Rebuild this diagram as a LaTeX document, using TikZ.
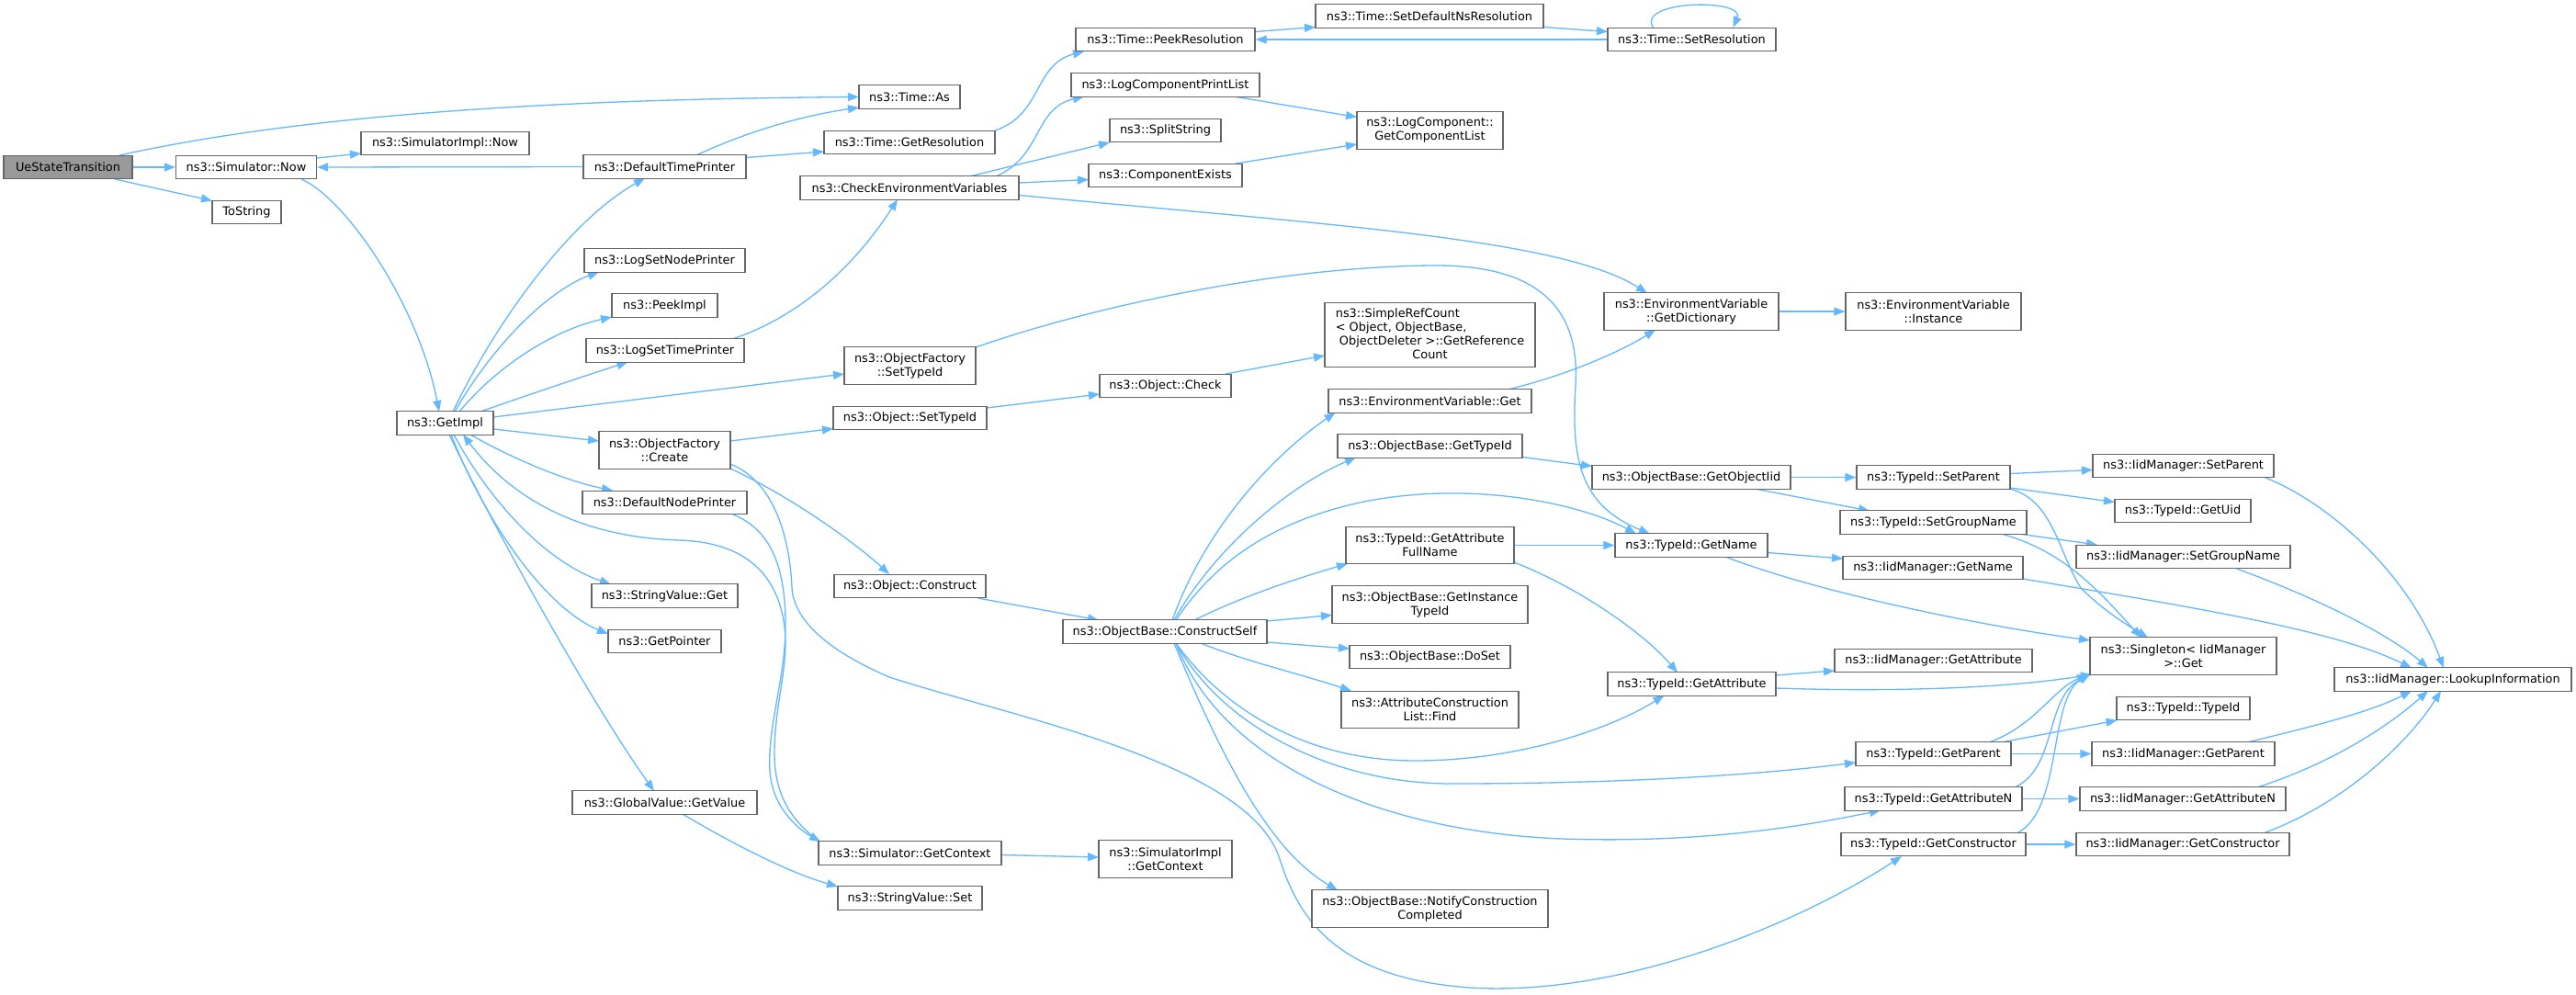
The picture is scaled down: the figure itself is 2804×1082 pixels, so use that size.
\documentclass[tikz,border=0pt]{standalone}
\usepackage{fontspec}
\setmainfont{DejaVu Sans}
\usetikzlibrary{arrows.meta}
\definecolor{edgec}{HTML}{63B8FF}
\definecolor{boxc}{HTML}{666666}
\definecolor{rootc}{HTML}{999999}
\pgfdeclarelayer{back}
\pgfdeclarelayer{edges}
\pgfsetlayers{back,edges,main}
\tikzset{
  fn/.style={draw=boxc, line width=1.3pt, fill=white, inner sep=0pt, minimum height=25.5pt,
    font=\fontsize{12.9pt}{15pt}\selectfont, align=center},
  fn2/.style={fn, minimum height=40.5pt},
  call/.style={draw=edgec, line width=1.3pt, -{Triangle[length=12pt,width=9pt]}}
}
\begin{document}
\begin{tikzpicture}[x=1pt,y=-1pt]
\useasboundingbox (0,0) rectangle (2804,1082);
\begin{pgfonlayer}{back}
\fill[white] (0,0) rectangle (2804,1082);
\end{pgfonlayer}
% column 1-4
\node[fn, fill=rootc, minimum width=140pt] (ue) at (74,182) {UeStateTransition};
\node[fn, minimum width=153pt] (simnow) at (268,182) {ns3::Simulator::Now};
\node[fn, minimum width=183pt] (simimplnow) at (484.5,156) {ns3::SimulatorImpl::Now};
\node[fn, minimum width=75pt] (tostring) at (268.5,231) {ToString};
\node[fn, minimum width=105pt] (getimpl) at (484.5,460.5) {ns3::GetImpl};
\node[fn, minimum width=177pt] (dtp) at (723.5,181.5) {ns3::DefaultTimePrinter};
\node[fn, minimum width=175pt] (lsnp) at (723.5,283.5) {ns3::LogSetNodePrinter};
\node[fn, minimum width=115pt] (peekimpl) at (723.5,332.5) {ns3::PeekImpl};
\node[fn, minimum width=172pt] (lstp) at (724,381.5) {ns3::LogSetTimePrinter};
\node[fn2, minimum width=143pt] (ofcreate) at (723.5,490) {ns3::ObjectFactory\\::Create};
\node[fn, minimum width=179pt] (dnp) at (723.5,547) {ns3::DefaultNodePrinter};
\node[fn, minimum width=159pt] (svget) at (723.5,648.5) {ns3::StringValue::Get};
\node[fn, minimum width=123pt] (getptr) at (723.5,698) {ns3::GetPointer};
\node[fn, minimum width=201pt] (gvget) at (723.5,873.5) {ns3::GlobalValue::GetValue};
% column 5
\node[fn, minimum width=110pt] (timeas) at (990,105.5) {ns3::Time::As};
\node[fn, minimum width=186pt] (getres) at (990,155) {ns3::Time::GetResolution};
\node[fn, minimum width=238pt] (cev) at (990,204.5) {ns3::CheckEnvironmentVariables};
\node[fn2, minimum width=143pt] (ofsettid) at (990.5,398) {ns3::ObjectFactory\\::SetTypeId};
\node[fn, minimum width=167pt] (objsettid) at (990.5,455) {ns3::Object::SetTypeId};
\node[fn, minimum width=165pt] (objconstruct) at (990.5,638) {ns3::Object::Construct};
\node[fn, minimum width=199pt] (simgetctx) at (990.5,928.5) {ns3::Simulator::GetContext};
\node[fn, minimum width=157pt] (svset) at (990.5,977.5) {ns3::StringValue::Set};
% column 6
\node[fn, minimum width=195pt] (peekres) at (1268.5,43) {ns3::Time::PeekResolution};
\node[fn, minimum width=205pt] (lcpl) at (1268.5,92.5) {ns3::LogComponentPrintList};
\node[fn, minimum width=121pt] (split) at (1268.5,142) {ns3::SplitString};
\node[fn, minimum width=167pt] (compexists) at (1268.5,191) {ns3::ComponentExists};
\node[fn, minimum width=143pt] (objcheck) at (1268.5,420) {ns3::Object::Check};
\node[fn, minimum width=222pt] (constructself) at (1268,687.5) {ns3::ObjectBase::ConstructSelf};
\node[fn2, minimum width=145pt] (simimplctx) at (1268.5,935) {ns3::SimulatorImpl\\::GetContext};
% column 7
\node[fn, minimum width=248pt] (setdefns) at (1556,17.5) {ns3::Time::SetDefaultNsResolution};
\node[fn2, minimum width=159pt] (getcomplist) at (1556.5,142) {ns3::LogComponent::\\GetComponentList};
\node[fn, minimum width=229pt, minimum height=69.5pt] (src) at (1556.5,364.5)
  {\begin{tabular}{@{}l@{}}ns3::SimpleRefCount\\< Object, ObjectBase,\\\ ObjectDeleter >::GetReference\\\multicolumn{1}{@{}c@{}}{Count}\end{tabular}};
\node[fn, minimum width=221pt] (evget) at (1556.5,436.5) {ns3::EnvironmentVariable::Get};
\node[fn, minimum width=201pt] (obgettid) at (1556.5,485.5) {ns3::ObjectBase::GetTypeId};
\node[fn2, minimum width=183pt] (getattrfull) at (1556.5,593.5) {ns3::TypeId::GetAttribute\\FullName};
\node[fn2, minimum width=213pt] (getinst) at (1556.5,658) {ns3::ObjectBase::GetInstance\\TypeId};
\node[fn, minimum width=175pt] (doset) at (1556.5,715) {ns3::ObjectBase::DoSet};
\node[fn2, minimum width=193pt] (acfind) at (1556.5,772.5) {ns3::AttributeConstruction\\List::Find};
\node[fn2, minimum width=257pt] (notify) at (1556.5,989) {ns3::ObjectBase::NotifyConstruction\\Completed};
% column 8
\node[fn, minimum width=183pt] (setres) at (1841.5,43) {ns3::Time::SetResolution};
\node[fn2, minimum width=190pt] (getdict) at (1841,339) {ns3::EnvironmentVariable\\::GetDictionary};
\node[fn, minimum width=216pt] (getobjiid) at (1841,519.5) {ns3::ObjectBase::GetObjectIid};
\node[fn, minimum width=166pt] (tidgetname) at (1841,593.5) {ns3::TypeId::GetName};
\node[fn, minimum width=183pt] (tidgetattr) at (1841.5,744.5) {ns3::TypeId::GetAttribute};
% column 9
\node[fn2, minimum width=191pt] (evinst) at (2104.5,339) {ns3::EnvironmentVariable\\::Instance};
\node[fn, minimum width=167pt] (tidsetparent) at (2104.5,519.5) {ns3::TypeId::SetParent};
\node[fn, minimum width=203pt] (tidsetgroup) at (2104.5,568.5) {ns3::TypeId::SetGroupName};
\node[fn, minimum width=196pt] (iidgetname) at (2104,618) {ns3::IidManager::GetName};
\node[fn, minimum width=215pt] (iidgetattr) at (2104.5,719) {ns3::IidManager::GetAttribute};
\node[fn, minimum width=169pt] (tidgetparent) at (2104.5,820.5) {ns3::TypeId::GetParent};
\node[fn, minimum width=193pt] (tidgetattrn) at (2104.5,869.5) {ns3::TypeId::GetAttributeN};
\node[fn, minimum width=201pt] (tidgetctor) at (2104.5,919) {ns3::TypeId::GetConstructor};
% column 10
\node[fn, minimum width=197pt] (iidsetparent) at (2376.5,507) {ns3::IidManager::SetParent};
\node[fn, minimum width=148pt] (tidgetuid) at (2376,556) {ns3::TypeId::GetUid};
\node[fn, minimum width=233pt] (iidsetgroup) at (2376.5,606) {ns3::IidManager::SetGroupName};
\node[fn2, minimum width=203pt] (singleton) at (2376.5,714) {ns3::Singleton< IidManager\\>::Get};
\node[fn, minimum width=145pt] (tidtypeid) at (2376.5,771) {ns3::TypeId::TypeId};
\node[fn, minimum width=199pt] (iidgetparent) at (2376.5,820.5) {ns3::IidManager::GetParent};
\node[fn, minimum width=224pt] (iidgetattrn) at (2376,869.5) {ns3::IidManager::GetAttributeN};
\node[fn, minimum width=232pt] (iidgetctor) at (2376,919) {ns3::IidManager::GetConstructor};
% column 11
\node[fn, minimum width=258pt] (lookup) at (2670,739.5) {ns3::IidManager::LookupInformation};

\begin{pgfonlayer}{edges}
% UeStateTransition
\draw[call] ([shift={(56,-13)}]ue.center) .. controls (330,125) and (600,108) .. ([shift={(-55,0)}]timeas.center);
\draw[call] (ue.east) -- (simnow.west);
\draw[call] ([shift={(51,13)}]ue.center) -- ([shift={(-37.5,-12.5)}]tostring.center);
% Simulator::Now
\draw[call] ([shift={(77,-10)}]simnow.center) -- ([shift={(-91.5,11)}]simimplnow.center);
\draw[call] ([shift={(60,13)}]simnow.center) .. controls (375,215) and (455,330) .. ([shift={(-6.5,-12.5)}]getimpl.center);
% DefaultTimePrinter
\draw[call] (dtp.west) -- (simnow.east);
\draw[call] ([shift={(34.5,-12.5)}]dtp.center) .. controls (820,140) and (880,125) .. ([shift={(-55,11.5)}]timeas.center);
\draw[call] ([shift={(88.5,-10)}]dtp.center) -- ([shift={(-93,10)}]getres.center);
% GetImpl
\draw[call] ([shift={(8.5,-12.5)}]getimpl.center) .. controls (540,350) and (620,240) .. ([shift={(-21.5,12.5)}]dtp.center);
\draw[call] ([shift={(10.5,-12.5)}]getimpl.center) .. controls (540,370) and (600,315) .. ([shift={(-71.5,12.5)}]lsnp.center);
\draw[call] ([shift={(15.5,-12.5)}]getimpl.center) .. controls (540,400) and (600,360) .. ([shift={(-57.5,12.5)}]peekimpl.center);
\draw[call] ([shift={(38.5,-12.5)}]getimpl.center) .. controls (580,428) and (640,408) .. ([shift={(-40.5,12.5)}]lstp.center);
\draw[call] ([shift={(52.5,-6.5)}]getimpl.center) -- ([shift={(-71.5,9)}]ofsettid.center);
\draw[call] ([shift={(52.5,6.5)}]getimpl.center) -- ([shift={(-71.5,-10)}]ofcreate.center);
\draw[call] ([shift={(27.5,12.5)}]getimpl.center) .. controls (550,495) and (610,522) .. ([shift={(-56.5,-13)}]dnp.center);
\draw[call] ([shift={(9.5,12.5)}]getimpl.center) .. controls (530,540) and (590,610) .. ([shift={(-58.5,-12.5)}]svget.center);
\draw[call] ([shift={(6.5,12.5)}]getimpl.center) .. controls (525,560) and (590,660) .. ([shift={(-61.5,-8)}]getptr.center);
\draw[call] ([shift={(4.5,12.5)}]getimpl.center) .. controls (530,560) and (640,760) .. ([shift={(-11.5,-12.5)}]gvget.center);
% Simulator::GetContext -> GetImpl
\draw[call] ([shift={(-99,-12.5)}]simgetctx.center) .. controls (865,895) and (843,870) .. (843,820)
  .. controls (843,760) and (862,720) .. (852,670) .. controls (840,615) and (800,590) .. (740,588)
  .. controls (660,586) and (570,560) .. ([shift={(19.5,12.5)}]getimpl.center);
% DefaultNodePrinter -> Simulator::GetContext
\draw[call] ([shift={(74.5,13)}]dnp.center) .. controls (835,575) and (855,610) .. (855,680)
  .. controls (855,740) and (835,790) .. (838,840) .. controls (841,880) and (870,903) .. ([shift={(-97.5,-12.5)}]simgetctx.center);
% ObjectFactory::Create
\draw[call] ([shift={(71.5,-10)}]ofcreate.center) -- ([shift={(-83.5,11.5)}]objsettid.center);
\draw[call] ([shift={(71.5,20)}]ofcreate.center) .. controls (860,540) and (930,590) .. ([shift={(-22.5,-13)}]objconstruct.center);
\draw[call] ([shift={(71.5,15)}]ofcreate.center) .. controls (845,525) and (860,590) .. (862,640)
  .. controls (865,680) and (910,712) .. (968,737) .. controls (1100,780) and (1360,830) .. (1393,935)
  .. controls (1415,1005) and (1460,1065) .. (1600,1075) .. controls (1760,1085) and (1950,1010) .. ([shift={(-34.5,13)}]tidgetctor.center);
% ObjectFactory::SetTypeId -> TypeId::GetName
\draw[call] ([shift={(71.5,-20)}]ofsettid.center) .. controls (1200,330) and (1400,290) .. (1560,289)
  .. controls (1680,288) and (1720,340) .. (1715,420) .. controls (1710,500) and (1720,550) .. ([shift={(-45,-12.5)}]tidgetname.center);
% Object
\draw[call] ([shift={(83.5,-11)}]objsettid.center) -- ([shift={(-71.5,9)}]objcheck.center);
\draw[call] ([shift={(65.5,-13)}]objcheck.center) -- ([shift={(-114.5,22.5)}]src.center);
\draw[call] ([shift={(74,13)}]objconstruct.center) -- ([shift={(-72,-12.5)}]constructself.center);
\draw[call] ([shift={(99.5,2)}]simgetctx.center) -- ([shift={(-72.5,-2)}]simimplctx.center);
\draw[call] ([shift={(19.5,12.5)}]gvget.center) .. controls (800,920) and (860,950) .. ([shift={(-78.5,-12.5)}]svset.center);
% LogSetTimePrinter -> CEV
\draw[call] ([shift={(73,-12.5)}]lstp.center) .. controls (870,345) and (930,290) .. ([shift={(-13,12.5)}]cev.center);
% CheckEnvironmentVariables
\draw[call] ([shift={(94,-12.5)}]cev.center) .. controls (1135,170) and (1125,118) .. ([shift={(-88.5,12.5)}]lcpl.center);
\draw[call] ([shift={(65,-12.5)}]cev.center) -- ([shift={(-60.5,13)}]split.center);
\draw[call] ([shift={(119,-5.5)}]cev.center) -- ([shift={(-83.5,4.5)}]compexists.center);
\draw[call] ([shift={(119,8)}]cev.center) .. controls (1450,245) and (1700,260) .. ([shift={(-48,-20)}]getdict.center);
% Time
\draw[call] ([shift={(93,-13)}]getres.center) .. controls (1135,125) and (1125,70) .. ([shift={(-88.5,13)}]peekres.center);
\draw[call] ([shift={(97.5,-8.5)}]peekres.center) -- ([shift={(-124,12)}]setdefns.center);
\draw[call] ([shift={(124,12)}]setdefns.center) -- ([shift={(-91.5,-8.5)}]setres.center);
\draw[call] (setres.west) -- (peekres.east);
\draw[call] ([shift={(-42,-13)}]setres.center) .. controls (1780,0) and (1900,-2) .. ([shift={(45,-13)}]setres.center);
% LogComponent
\draw[call] ([shift={(74.5,12.5)}]lcpl.center) -- ([shift={(-79.5,-14.5)}]getcomplist.center);
\draw[call] ([shift={(76.5,-13)}]compexists.center) -- ([shift={(-79.5,15)}]getcomplist.center);
% EnvironmentVariable
\draw[call] (getdict.east) -- (evinst.west);
\draw[call] ([shift={(84.5,-12.5)}]evget.center) .. controls (1700,410) and (1760,385) .. ([shift={(-39,20)}]getdict.center);
% ConstructSelf
\draw[call] ([shift={(8,-12.5)}]constructself.center) .. controls (1310,580) and (1380,500) .. ([shift={(-103,12.5)}]evget.center);
\draw[call] ([shift={(10,-12.5)}]constructself.center) .. controls (1320,600) and (1400,530) .. ([shift={(-80.5,12.5)}]obgettid.center);
\draw[call] ([shift={(12,-12.5)}]constructself.center) .. controls (1330,600) and (1400,565) .. (1480,547)
  .. controls (1600,522) and (1720,548) .. ([shift={(-60,-12.5)}]tidgetname.center);
\draw[call] ([shift={(32,-12.5)}]constructself.center) .. controls (1350,650) and (1410,630) .. ([shift={(-89.5,20)}]getattrfull.center);
\draw[call] ([shift={(111,-11.5)}]constructself.center) -- ([shift={(-106.5,11.5)}]getinst.center);
\draw[call] ([shift={(111,11.5)}]constructself.center) -- ([shift={(-87.5,-9)}]doset.center);
\draw[call] ([shift={(39,12.5)}]constructself.center) .. controls (1350,718) and (1420,735) .. ([shift={(-85.5,-20.5)}]acfind.center);
\draw[call] ([shift={(12,12.5)}]constructself.center) .. controls (1330,770) and (1420,828) .. (1540,828)
  .. controls (1650,828) and (1750,795) .. ([shift={(-30,12.5)}]tidgetattr.center);
\draw[call] ([shift={(12,12.5)}]constructself.center) .. controls (1330,790) and (1450,853) .. (1580,853)
  .. controls (1750,853) and (1900,845) .. ([shift={(-84.5,9.5)}]tidgetparent.center);
\draw[call] ([shift={(12,12.5)}]constructself.center) .. controls (1330,830) and (1500,905) .. (1700,913)
  .. controls (1850,918) and (1960,900) .. ([shift={(-57.5,12.5)}]tidgetattrn.center);
\draw[call] ([shift={(10,12.5)}]constructself.center) .. controls (1340,850) and (1390,930) .. ([shift={(-100.5,-20)}]notify.center);
% TypeId::GetAttributeFullName
\draw[call] (getattrfull.east) -- (tidgetname.west);
\draw[call] ([shift={(91.5,18.5)}]getattrfull.center) .. controls (1720,640) and (1790,690) .. ([shift={(-15.5,-12.5)}]tidgetattr.center);
% ObjectBase::GetTypeId / GetObjectIid
\draw[call] ([shift={(100.5,12)}]obgettid.center) -- ([shift={(-108,-12)}]getobjiid.center);
\draw[call] (getobjiid.east) -- (tidsetparent.west);
\draw[call] ([shift={(69,12.5)}]getobjiid.center) -- ([shift={(-69.5,-12.5)}]tidsetgroup.center);
% TypeId::GetName / GetAttribute
\draw[call] ([shift={(83,8)}]tidgetname.center) -- ([shift={(-98,-10)}]iidgetname.center);
\draw[call] ([shift={(37,12.5)}]tidgetname.center) .. controls (1980,645) and (2150,680) .. ([shift={(-101.5,-17)}]singleton.center);
\draw[call] ([shift={(91.5,-9.5)}]tidgetattr.center) -- ([shift={(-107.5,11)}]iidgetattr.center);
\draw[call] ([shift={(91.5,4.5)}]tidgetattr.center) .. controls (2050,753) and (2180,750) .. ([shift={(-99.5,20)}]singleton.center);
% TypeId::SetParent / SetGroupName
\draw[call] ([shift={(83.5,-4)}]tidsetparent.center) -- ([shift={(-98.5,4.5)}]iidsetparent.center);
\draw[call] ([shift={(83.5,11.5)}]tidsetparent.center) -- ([shift={(-74,-9.5)}]tidgetuid.center);
\draw[call] ([shift={(83.5,12.5)}]tidsetparent.center) .. controls (2235,545) and (2240,600) .. (2265,640)
  .. controls (2290,665) and (2315,680) .. ([shift={(-38.5,-20)}]singleton.center);
\draw[call] ([shift={(92.5,12.5)}]tidsetgroup.center) -- ([shift={(-93.5,-13)}]iidsetgroup.center);
\draw[call] ([shift={(73.5,12.5)}]tidsetgroup.center) .. controls (2250,600) and (2290,650) .. ([shift={(-45.5,-20)}]singleton.center);
% TypeId::GetParent / GetAttributeN / GetConstructor
\draw[call] ([shift={(60.5,-12.5)}]tidgetparent.center) .. controls (2215,790) and (2235,750) .. ([shift={(-103.5,20)}]singleton.center);
\draw[call] ([shift={(73.5,-12.5)}]tidgetparent.center) -- ([shift={(-72,13)}]tidtypeid.center);
\draw[call] (tidgetparent.east) -- (iidgetparent.west);
\draw[call] ([shift={(88.5,-12.5)}]tidgetattrn.center) .. controls (2240,835) and (2225,760) .. ([shift={(-101.5,20)}]singleton.center);
\draw[call] (tidgetattrn.east) -- (iidgetattrn.west);
\draw[call] ([shift={(92.5,-13)}]tidgetctor.center) .. controls (2245,880) and (2230,760) .. ([shift={(-101.5,20)}]singleton.center);
\draw[call] (tidgetctor.east) -- (iidgetctor.west);
% IidManager -> LookupInformation
\draw[call] ([shift={(98,12)}]iidgetname.center) .. controls (2380,660) and (2540,685) .. ([shift={(-45,-12.5)}]lookup.center);
\draw[call] ([shift={(89.5,13)}]iidsetparent.center) .. controls (2530,545) and (2620,620) .. ([shift={(-10,-12.5)}]lookup.center);
\draw[call] ([shift={(58,13)}]iidsetgroup.center) .. controls (2520,650) and (2600,690) .. ([shift={(-27,-12.5)}]lookup.center);
\draw[call] ([shift={(69.5,-12.5)}]iidgetparent.center) .. controls (2520,790) and (2580,775) .. ([shift={(-45,12.5)}]lookup.center);
\draw[call] ([shift={(81,-12.5)}]iidgetattrn.center) .. controls (2540,830) and (2600,790) .. ([shift={(-27,12.5)}]lookup.center);
\draw[call] ([shift={(90,-13)}]iidgetctor.center) .. controls (2550,875) and (2620,810) .. ([shift={(-13,12.5)}]lookup.center);
\end{pgfonlayer}
\end{tikzpicture}
\end{document}
